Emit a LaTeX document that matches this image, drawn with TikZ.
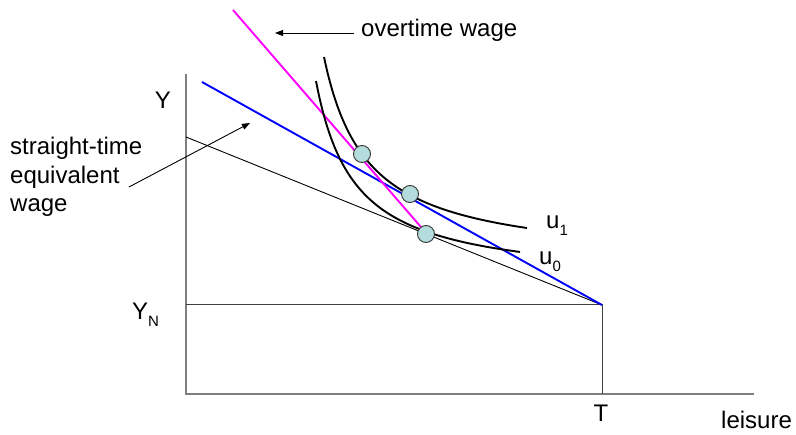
\documentclass[tikz,border=0pt]{standalone}
\usepackage{fontspec}
\setmainfont{Liberation Sans}
\usetikzlibrary{arrows.meta}
\definecolor{axisgray}{HTML}{7F7F7F}
\definecolor{dotfill}{HTML}{B4DCDC}
\definecolor{magentaline}{HTML}{FF00FF}
\begin{document}
\begin{tikzpicture}[x=1pt,y=-1pt,
  lbl/.style={font=\fontsize{24}{28.5}\selectfont, inner sep=0pt},
  axisline/.style={draw=axisgray, line width=1.8pt},
  guide/.style={draw=black!75, line width=1pt},
  budget/.style={draw=black, line width=0.9pt},
  curve/.style={draw=black, line width=1.9pt},
  dot/.style={circle, draw=black!80, fill=dotfill, line width=0.9pt, minimum size=17pt, inner sep=0pt},
  pointer/.style={draw=black, line width=0.9pt, -{Triangle[length=8pt,width=6pt]}}]
\useasboundingbox (0,0) rectangle (796,435);
% axes
\coordinate (O) at (186,394);
\coordinate (Ytop) at (186,74);
\coordinate (Xend) at (754,394);
\coordinate (YN) at (186,305);
\coordinate (TN) at (602,305);
\coordinate (T0) at (602,394);
\draw[axisline] (Ytop) -- (O) -- (Xend);
\draw[guide] (YN) -- (TN) -- (T0);
% budget lines
\coordinate (B0) at (186,137);
\coordinate (B1) at (202,82);
\coordinate (M0) at (233,10);
\coordinate (M1) at (427,234);
\draw[budget] (B0) -- (TN);
\draw[draw=blue, line width=1.9pt] (B1) -- (TN);
\draw[draw=magentaline, line width=1.9pt] (M0) -- (M1);
% indifference curves
\draw[curve] plot[domain=324:527, samples=90, smooth] (\x, {264.5 - 8986/(\x-280.7)});
\draw[curve] plot[domain=316:520, samples=90, smooth] (\x, {284.3 - 7848/(\x-277.4)});
% points
\node[dot] (p1) at (362,154) {};
\node[dot] (p2) at (410,194) {};
\node[dot] (p3) at (426,234) {};
% labels
\node[lbl, anchor=base west] (ot) at (361,37) {overtime wage};
\coordinate (otTip) at (275,33);
\coordinate (otStart) at (354,33);
\draw[pointer] (otStart) -- (otTip);
\node[lbl, anchor=north west, align=left] (st) at (10,137) {straight-time\\equivalent\\wage};
\coordinate (stTip) at (250,123);
\coordinate (stStart) at (129,187);
\draw[pointer] (stStart) -- (stTip);
\node[lbl, anchor=base] (Y) at (163,109) {Y};
\node[lbl, anchor=base west] (YNl) at (132,320) {Y\raisebox{-7pt}{\fontsize{15}{15}\selectfont N}};
\node[lbl, anchor=base] (Tl) at (601,422) {T};
\node[lbl, anchor=base west] (lei) at (721,429) {leisure};
\node[lbl, anchor=base west] (u1) at (546,229) {u\raisebox{-7pt}{\fontsize{15}{15}\selectfont 1}};
\node[lbl, anchor=base west] (u0) at (539,265) {u\raisebox{-7pt}{\fontsize{15}{15}\selectfont 0}};
\end{tikzpicture}
\end{document}
